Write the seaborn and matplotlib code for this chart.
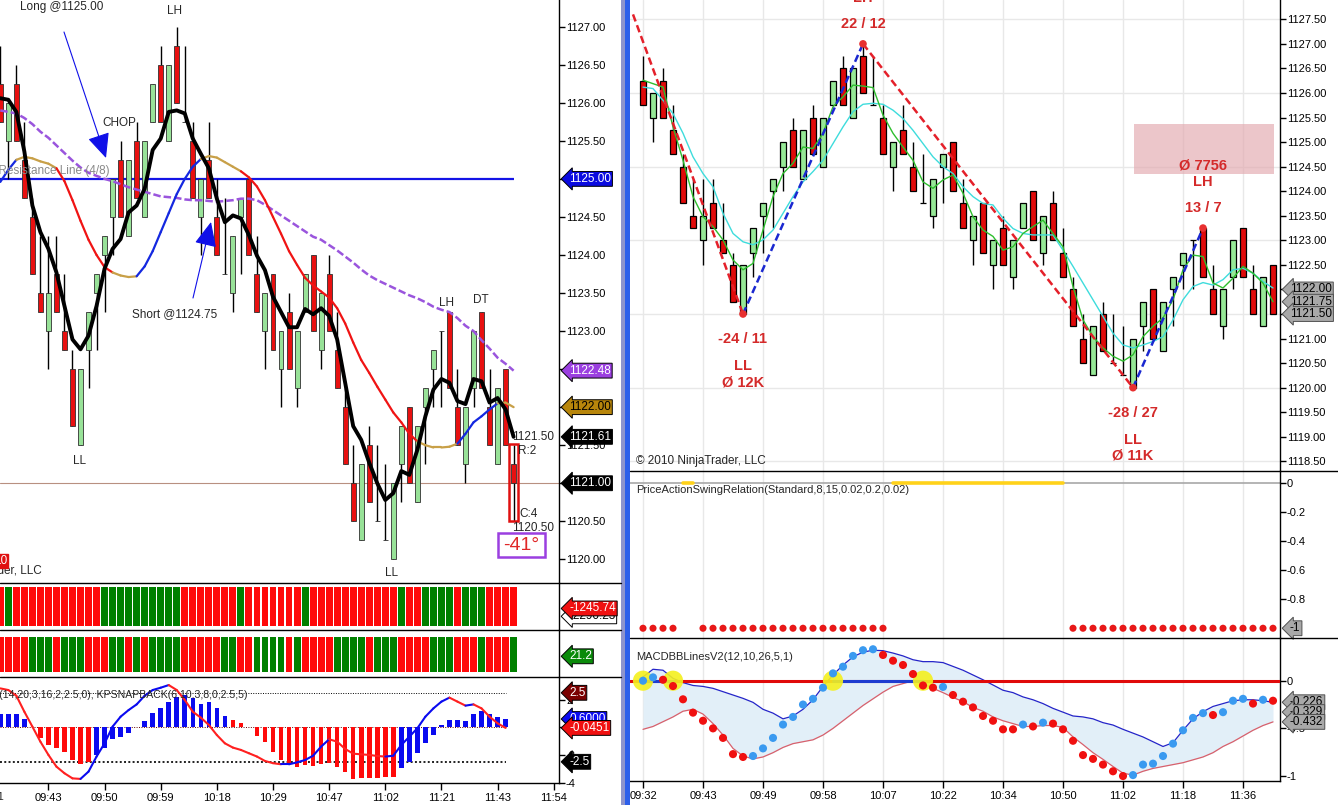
import numpy as np
import matplotlib
matplotlib.use("Agg")
import matplotlib.pyplot as plt
import seaborn as sns
from matplotlib.collections import LineCollection
from matplotlib.patches import Rectangle, FancyArrowPatch
from matplotlib.lines import Line2D
from matplotlib.ticker import FuncFormatter

W, H = 1338, 805

# Shared bar data (left chart shows all 65 bars, right chart the first 64)
OPEN = [1126.25, 1125.50, 1126.25, 1125.25, 1124.50, 1123.50, 1123.00, 1123.75, 1123.00, 1122.50,
        1121.50, 1122.75, 1123.50, 1124.00, 1124.50, 1125.25, 1124.25, 1125.50, 1124.50, 1125.75,
        1126.50, 1125.50, 1126.75, 1125.75, 1125.50, 1124.50, 1125.25, 1124.50, 1123.75, 1123.50,
        1124.50, 1125.00, 1123.75, 1123.00, 1123.75, 1122.50, 1123.25, 1122.25, 1123.25, 1124.00,
        1122.75, 1123.75, 1122.75, 1122.00, 1121.00, 1120.25, 1121.50, 1120.50, 1120.25, 1120.00,
        1121.25, 1122.00, 1120.75, 1122.00, 1122.50, 1123.00, 1123.25, 1122.00, 1121.25, 1122.25,
        1123.25, 1122.00, 1121.25, 1122.50, 1121.25]
HIGH = [1126.75, 1126.00, 1126.50, 1125.75, 1124.75, 1124.25, 1124.25, 1124.25, 1123.75, 1122.75,
        1122.50, 1123.25, 1123.75, 1124.25, 1125.00, 1125.50, 1125.25, 1125.75, 1125.50, 1126.25,
        1126.75, 1126.50, 1127.00, 1126.75, 1125.75, 1125.00, 1125.75, 1125.00, 1124.75, 1124.25,
        1124.75, 1125.00, 1124.25, 1123.50, 1123.75, 1123.00, 1123.50, 1123.00, 1123.75, 1124.00,
        1123.50, 1124.00, 1123.25, 1122.25, 1121.50, 1121.25, 1121.75, 1121.50, 1121.25, 1121.00,
        1121.75, 1122.00, 1121.75, 1122.25, 1122.75, 1123.00, 1123.25, 1122.50, 1122.00, 1123.00,
        1123.25, 1122.50, 1122.25, 1122.50, 1121.50]
LOW = [1125.75, 1125.00, 1125.50, 1124.75, 1123.75, 1123.25, 1122.50, 1123.25, 1122.75, 1121.75,
       1121.50, 1122.25, 1122.75, 1123.25, 1124.00, 1124.50, 1124.25, 1124.75, 1124.50, 1125.75,
       1125.75, 1125.50, 1126.00, 1125.75, 1124.75, 1124.00, 1124.75, 1124.00, 1123.75, 1123.25,
       1123.75, 1124.00, 1123.25, 1122.50, 1122.75, 1122.00, 1122.50, 1122.00, 1123.25, 1123.00,
       1122.50, 1123.00, 1122.25, 1121.25, 1120.50, 1120.25, 1120.75, 1120.50, 1120.25, 1120.00,
       1120.75, 1121.00, 1120.75, 1121.25, 1122.00, 1122.00, 1122.25, 1121.50, 1121.00, 1122.00,
       1122.25, 1121.50, 1121.25, 1121.50, 1120.50]
CLOSE = [1125.75, 1126.00, 1125.50, 1124.75, 1123.75, 1123.25, 1123.50, 1123.25, 1122.75, 1121.75,
         1122.50, 1123.25, 1123.75, 1124.25, 1125.00, 1124.50, 1125.25, 1124.75, 1125.50, 1126.25,
         1125.75, 1126.50, 1126.00, 1125.75, 1124.75, 1125.00, 1124.75, 1124.00, 1123.75, 1124.25,
         1124.75, 1124.00, 1123.25, 1123.50, 1122.75, 1123.00, 1122.50, 1123.00, 1123.75, 1123.00,
         1123.50, 1123.00, 1122.25, 1121.25, 1120.50, 1121.25, 1120.75, 1120.50, 1120.25, 1121.00,
         1121.75, 1121.00, 1121.75, 1122.25, 1122.75, 1123.00, 1122.25, 1121.50, 1122.00, 1123.00,
         1122.25, 1121.50, 1122.25, 1121.50, 1121.00]

# Left chart averages
LEFT_FAST = [1126.06, 1126.04, 1125.88, 1125.36, 1124.65, 1124.30, 1124.08, 1123.77, 1123.33, 1122.89,
             1122.76, 1122.94, 1123.33, 1123.82, 1124.08, 1124.21, 1124.56, 1124.65, 1124.87, 1125.38,
             1125.53, 1125.88, 1125.90, 1125.86, 1125.53, 1125.33, 1125.14, 1124.74, 1124.43, 1124.52,
             1124.48, 1124.26, 1123.99, 1123.80, 1123.45, 1123.25, 1123.05, 1123.05, 1123.29, 1123.22,
             1123.30, 1123.20, 1122.89, 1122.32, 1121.75, 1121.57, 1121.27, 1121.00, 1120.78, 1120.87,
             1121.16, 1121.11, 1121.44, 1121.88, 1122.23, 1122.37, 1122.32, 1122.08, 1122.04, 1122.37,
             1122.34, 1122.06, 1122.12, 1121.97, 1121.61]
LEFT_MID = [1124.96, 1125.12, 1125.25, 1125.29, 1125.27, 1125.23, 1125.20, 1125.14, 1124.97, 1124.72,
            1124.45, 1124.20, 1124.00, 1123.84, 1123.77, 1123.73, 1123.71, 1123.72, 1123.85, 1124.05,
            1124.30, 1124.55, 1124.80, 1125.00, 1125.16, 1125.26, 1125.30, 1125.28, 1125.22, 1125.16,
            1125.10, 1125.02, 1124.90, 1124.72, 1124.50, 1124.28, 1124.05, 1123.87, 1123.70, 1123.60,
            1123.52, 1123.44, 1123.30, 1123.10, 1122.85, 1122.62, 1122.45, 1122.27, 1122.10, 1121.93,
            1121.80, 1121.65, 1121.55, 1121.50, 1121.47, 1121.47, 1121.48, 1121.52, 1121.65, 1121.80,
            1121.88, 1121.97, 1122.05, 1122.06, 1122.00]
LEFT_SLOW = [1125.90, 1125.88, 1125.86, 1125.80, 1125.72, 1125.62, 1125.54, 1125.44, 1125.34, 1125.24,
             1125.15, 1125.08, 1125.04, 1125.00, 1124.97, 1124.93, 1124.89, 1124.86, 1124.83, 1124.80,
             1124.77, 1124.76, 1124.75, 1124.73, 1124.72, 1124.72, 1124.71, 1124.70, 1124.71, 1124.72,
             1124.74, 1124.74, 1124.72, 1124.66, 1124.59, 1124.52, 1124.45, 1124.38, 1124.31, 1124.24,
             1124.20, 1124.13, 1124.06, 1123.98, 1123.90, 1123.81, 1123.73, 1123.67, 1123.62, 1123.57,
             1123.52, 1123.47, 1123.43, 1123.38, 1123.32, 1123.28, 1123.25, 1123.17, 1123.07, 1123.00,
             1122.88, 1122.77, 1122.65, 1122.57, 1122.48]
SR_LEVEL = 1125.00

# Left lower panels
STRIP_TOP = "RG RRRRRRRRRRR GGGGGGGGGG RRRRRRR G RRRRRRR G RRRRRRRRRRR G RR GGGG R GGG RRRR"
STRIP_BOTTOM = "RRRR GGG R GGG RRR GG R G R GGGG RRRRR GG RR GGGG R G RRRR GGGG R GGG RRRR GGG RRR G RRR G"
OSC_HIST = [0.96, 1.00, 1.00, 0.60, 0.00, -0.75, -1.28, -1.47, -1.76, -2.37,
            -2.65, -2.50, -2.00, -1.50, -0.85, -0.68, -0.40, 0.00, 0.46, 1.01,
            1.37, 1.86, 2.22, 2.34, 2.10, 1.66, 1.86, 1.37, 0.82, 0.53,
            0.29, 0.00, -0.63, -1.04, -1.77, -2.37, -2.68, -2.85, -2.73, -2.78,
            -2.68, -2.61, -2.85, -3.26, -3.75, -3.70, -3.70, -3.65, -3.63, -3.58,
            -2.97, -2.54, -1.88, -1.16, -0.56, 0.16, 0.53, 0.53, 0.46, 0.94,
            1.20, 0.94, 0.77, 0.60, 0.00]
HIST_STATE = "BBBBB RRRRRRR BBBBB B BBBBBBBBBBB RR R RRRRRRRRRRRRRRRRRR BBBBBBBBBBBBBB B"
OSC_LINE = [2.82, 2.70, 2.29, 1.13, 0.05, -1.04, -2.00, -2.85, -3.33, -3.70,
            -3.74, -3.21, -2.12, -1.16, 0.05, 0.77, 1.25, 1.66, 2.29, 2.70,
            2.87, 3.06, 2.70, 1.98, 1.13, 0.70, 0.17, -0.56, -1.16, -1.47,
            -1.64, -1.88, -2.12, -2.44, -2.60, -2.68, -2.68, -2.54, -2.37, -2.06,
            -1.40, -0.87, -1.04, -1.57, -1.91, -1.96, -2.00, -2.08, -2.12, -2.06,
            -1.28, -0.68, -0.07, 0.77, 1.37, 1.86, 2.15, 1.86, 1.57, 1.66,
            1.37, 0.77, 0.29, -0.0451]
OSC_LEVELS = [2.5, -2.5]
LEFT_TIMES = ["09:43", "09:50", "09:59", "10:18", "10:29", "10:47", "11:02", "11:21", "11:43", "11:54"]
LEFT_TIME_IDX = [6, 13, 20, 27, 34, 41, 48, 55, 62, 69]

# Right chart averages and swings
RIGHT_FAST = [1126.26, 1126.19, 1126.12, 1125.31, 1124.63, 1123.89, 1123.48, 1123.28, 1123.01, 1122.60,
              1122.40, 1122.53, 1123.21, 1123.89, 1124.36, 1124.57, 1124.90, 1124.87, 1125.18, 1125.72,
              1125.92, 1126.16, 1126.14, 1126.11, 1125.55, 1125.18, 1124.90, 1124.63, 1124.19, 1124.06,
              1124.23, 1124.33, 1123.96, 1123.48, 1123.21, 1123.08, 1122.80, 1122.87, 1123.14, 1123.28,
              1123.41, 1123.14, 1122.87, 1122.06, 1121.38, 1121.04, 1120.81, 1120.64, 1120.54, 1120.67,
              1121.04, 1121.25, 1121.42, 1121.79, 1122.40, 1122.70, 1122.67, 1122.13, 1122.03, 1122.23,
              1122.47, 1122.33, 1122.13, 1121.75]
RIGHT_SLOW = [1126.12, 1126.09, 1125.85, 1125.58, 1125.18, 1124.70, 1124.36, 1124.09, 1123.55, 1123.14,
              1122.97, 1122.91, 1123.01, 1123.21, 1123.55, 1123.89, 1124.19, 1124.40, 1124.63, 1124.97,
              1125.31, 1125.62, 1125.77, 1125.79, 1125.77, 1125.65, 1125.48, 1125.24, 1124.97, 1124.70,
              1124.50, 1124.36, 1124.09, 1123.89, 1123.75, 1123.72, 1123.45, 1123.24, 1123.14, 1123.11,
              1123.11, 1123.11, 1122.80, 1122.47, 1122.13, 1121.79, 1121.45, 1121.11, 1120.87, 1120.81,
              1120.87, 1120.94, 1121.04, 1121.38, 1121.79, 1122.06, 1122.14, 1122.09, 1122.20, 1122.40,
              1122.43, 1122.33, 1122.16, 1122.03]
SWING_IDX = [-1, 10, 22, 49, 56]
SWING_PRICE = [1127.60, 1121.50, 1127.00, 1120.00, 1123.25]
SWING_LABELS = {10: ["-24 / 11", "LL", "Ø 12K"],
                22: ["22 / 12", "LH"],
                49: ["-28 / 27", "LL", "Ø 11K"],
                56: ["13 / 7", "LH", "Ø 7756"]}
SWING_RELATION = [-1] * 4 + [0] * 2 + [-1] * 19 + [0] * 18 + [-1] * 21

MACD = [0.000, 0.035, 0.010, -0.056, -0.195, -0.335, -0.420, -0.500, -0.600, -0.770,
        -0.800, -0.790, -0.710, -0.600, -0.460, -0.380, -0.250, -0.190, -0.073, 0.077,
        0.147, 0.260, 0.320, 0.330, 0.270, 0.210, 0.165, 0.070, -0.050, -0.073,
        -0.065, -0.150, -0.220, -0.280, -0.370, -0.420, -0.510, -0.510, -0.460, -0.480,
        -0.440, -0.450, -0.510, -0.630, -0.780, -0.820, -0.880, -0.950, -1.000, -0.990,
        -0.880, -0.870, -0.790, -0.660, -0.520, -0.390, -0.340, -0.360, -0.330, -0.210,
        -0.190, -0.240, -0.200, -0.210]
BB_UPPER = [0.040, 0.120, 0.110, 0.025, -0.020, -0.050, -0.060, -0.080, -0.115, -0.150,
            -0.185, -0.227, -0.300, -0.340, -0.400, -0.370, -0.300, -0.200, -0.060, 0.060,
            0.164, 0.250, 0.300, 0.320, 0.315, 0.290, 0.260, 0.220, 0.200, 0.200,
            0.190, 0.150, 0.110, 0.060, 0.010, -0.045, -0.100, -0.125, -0.170, -0.200,
            -0.240, -0.290, -0.330, -0.370, -0.380, -0.400, -0.440, -0.465, -0.510, -0.550,
            -0.590, -0.640, -0.690, -0.650, -0.520, -0.400, -0.325, -0.270, -0.240, -0.210,
            -0.200, -0.200, -0.210, -0.226]
BB_LOWER = [-0.510, -0.480, -0.430, -0.380, -0.320, -0.300, -0.350, -0.450, -0.570, -0.710,
            -0.790, -0.820, -0.800, -0.755, -0.700, -0.660, -0.640, -0.620, -0.570, -0.500,
            -0.420, -0.340, -0.260, -0.190, -0.120, -0.060, -0.030, 0.000, -0.030, -0.080,
            -0.125, -0.175, -0.220, -0.280, -0.320, -0.380, -0.420, -0.450, -0.480, -0.480,
            -0.470, -0.470, -0.490, -0.590, -0.670, -0.755, -0.825, -0.900, -0.970, -0.990,
            -0.950, -0.920, -0.900, -0.880, -0.860, -0.830, -0.800, -0.755, -0.690, -0.640,
            -0.580, -0.520, -0.470, -0.432]
CROSS_IDX = [0, 3, 19, 28]
RIGHT_TIMES = ["09:32", "09:43", "09:49", "09:58", "10:07", "10:22", "10:34", "10:50", "11:02", "11:18", "11:36"]
RIGHT_TIME_IDX = [0, 6, 12, 18, 24, 30, 36, 42, 48, 54, 60]

LEFT_XLIM = (-0.037, 69.66)
RIGHT_XLIM = (-1.3, 63.7)
FONT = ["Liberation Sans", "DejaVu Sans"]


def fig_rect(x0, y0, x1, y1):
    """Axes rectangle from pixel corners (origin top-left)."""
    return [x0 / W, 1 - y1 / H, (x1 - x0) / W, (y1 - y0) / H]


def style_axis(ax, xlim, ylim, bottom=False):
    """White panel with a price scale on the right."""
    ax.set_xlim(*xlim)
    ax.set_ylim(*ylim)
    ax.set_facecolor("white")
    for side in ("top", "left", "bottom"):
        ax.spines[side].set_visible(False)
    ax.spines["right"].set_color("black")
    ax.spines["right"].set_linewidth(1)
    if bottom:
        ax.spines["bottom"].set_visible(True)
        ax.spines["bottom"].set_color("black")
        ax.spines["bottom"].set_linewidth(1)
    ax.yaxis.tick_right()
    ax.tick_params(axis="y", length=4, width=1, pad=1, labelsize=8, colors="black")
    ax.tick_params(axis="x", bottom=bottom, labelbottom=bottom, length=5, width=1,
                   pad=2, labelsize=8, colors="black")
    ax.grid(False)


def axis_marker(ax, value, text, fc, tc="white", ec="black", dy=0):
    """Arrow-shaped value tag on the right price scale."""
    ax.annotate(text, xy=(1, value), xycoords=("axes fraction", "data"),
                xytext=(10, dy), textcoords="offset pixels", ha="left", va="center",
                fontsize=8.5, color=tc, annotation_clip=False, zorder=20,
                bbox=dict(boxstyle="larrow,pad=0.12", fc=fc, ec=ec, lw=0.7))


def colored_line(ax, x, y, colors, lw, zorder=4):
    pts = np.column_stack([x, y]).reshape(-1, 1, 2)
    segs = np.concatenate([pts[:-1], pts[1:]], axis=1)
    ax.add_collection(LineCollection(segs, colors=colors, linewidths=lw,
                                     capstyle="round", joinstyle="round", zorder=zorder))


def draw_candles(ax, n, width, red, green, edge, edge_lw):
    o, h, l, c = (np.array(a[:n]) for a in (OPEN, HIGH, LOW, CLOSE))
    x = np.arange(n)
    ax.vlines(x, l, h, color="black", lw=1, zorder=2)
    colors = np.where(c > o, green, red)
    ax.bar(x, np.abs(c - o), bottom=np.minimum(o, c), width=width, color=colors,
           edgecolor=edge, linewidth=edge_lw, zorder=3)


def draw_left_main(fig):
    ax = fig.add_axes(fig_rect(0, 0, 559, 583))
    style_axis(ax, LEFT_XLIM, (1119.689, 1127.351))
    ax.set_yticks(np.arange(1120.0, 1127.01, 0.5))
    ax.yaxis.set_major_formatter(FuncFormatter(lambda v, _: f"{v:.2f}"))
    n = len(OPEN)
    idx = np.arange(n)

    ax.axhline(CLOSE[-1], color="#B89080", lw=0.8, zorder=1)
    ax.hlines(SR_LEVEL, LEFT_XLIM[0], n - 1, color="#1414E6", lw=1.6, zorder=1)
    draw_candles(ax, n, 0.62, "#E81010", "#98E298", "#303030", 0.6)

    sns.lineplot(x=idx, y=LEFT_SLOW, ax=ax, color="#9A55DD", lw=1.8,
                 linestyle=(0, (3, 1.2)), zorder=4)
    mid = np.array(LEFT_MID)
    slope = np.diff(mid)
    mid_colors = np.where(np.abs(slope) < 0.065, "#C8A048",
                          np.where(slope > 0, "#1428E0", "#F01414"))
    colored_line(ax, idx, mid, mid_colors, 1.6, zorder=4)
    sns.lineplot(x=idx, y=LEFT_FAST, ax=ax, color="black", lw=2.8, zorder=5)

    # value tags on the price scale
    axis_marker(ax, SR_LEVEL, f"{SR_LEVEL:.2f}", "#0A0AE0")
    axis_marker(ax, LEFT_SLOW[-1], f"{LEFT_SLOW[-1]:.2f}", "#9B3FE0")
    axis_marker(ax, LEFT_MID[-1], f"{LEFT_MID[-1]:.2f}", "#B8860B", tc="black")
    axis_marker(ax, LEFT_FAST[-1], f"{LEFT_FAST[-1]:.2f}", "black")
    axis_marker(ax, CLOSE[-1], f"{CLOSE[-1]:.2f}", "black")

    # live bar range box
    last = n - 1
    ax.add_patch(Rectangle((last - 0.57, LOW[-1]), 1.12, 1.02, fill=False,
                           ec="#E01010", lw=1.8, zorder=6, clip_on=False))
    return ax


def draw_left_annotations(fig):
    def t(x, y, s, **kw):
        kw.setdefault("fontsize", 8.5)
        kw.setdefault("family", FONT)
        fig.text(x / W, 1 - y / H, s, va="center", **kw)

    t(62, 7, "Long @1125.00", ha="center")
    t(119, 123, "CHOP", ha="center")
    t(175, 11, "LH", ha="center")
    t(175, 314, "Short @1124.75", ha="center")
    t(79, 461, "LL", ha="center")
    t(392, 573, "LL", ha="center")
    t(447, 303, "LH", ha="center")
    t(481, 300, "DT", ha="center")
    t(110, 171, "Support/Resistance Line (4/8)", ha="right", color="#8A8A8A")
    t(512, 437, "1121.50", ha="left")
    t(518, 451, "R:2", ha="left")
    t(519, 514, "C:4", ha="left")
    t(512, 528, "1120.50", ha="left")
    t(42, 571, "© 2010 NinjaTrader, LLC", ha="right")
    t(7, 561, "10", ha="right", color="white",
      bbox=dict(boxstyle="square,pad=0.1", fc="#E01010", ec="#E01010"))
    t(521, 545, "-41°", ha="center", fontsize=14, color="#E02828")
    fig.add_artist(Rectangle((498 / W, 1 - 557 / H), 47 / W, 24 / H, transform=fig.transFigure,
                             fill=False, ec="#9B3FE0", lw=1.8))
    arrow = dict(arrowstyle="-|>,head_length=0.55,head_width=0.25", color="#1010E8",
                 lw=0.8, mutation_scale=28, shrinkA=0, shrinkB=0)
    fig.add_artist(FancyArrowPatch((64, H - 32), (106, H - 158), transform=None, **arrow))
    fig.add_artist(FancyArrowPatch((193, H - 298), (211, H - 222), transform=None, **arrow))


def draw_strip(fig, rect, states, ylim, marker_text, marker_color, back_text=None):
    ax = fig.add_axes(fig_rect(*rect))
    style_axis(ax, LEFT_XLIM, ylim)
    ax.set_yticks([])
    codes = "".join(states.split())
    idx = np.arange(len(codes))
    colors = ["#FF0A0A" if s == "R" else "#008000" for s in codes]
    ax.bar(idx, 1.0, bottom=0.0, width=0.86, color=colors, lw=0, zorder=2)
    if back_text:
        axis_marker(ax, 0.3, back_text, "white", tc="black", ec="black", dy=-2)
    axis_marker(ax, 0.45, marker_text, marker_color)
    return ax


def draw_oscillator(fig):
    ax = fig.add_axes(fig_rect(0, 677, 559, 783))
    style_axis(ax, LEFT_XLIM, (-4.036, 3.645), bottom=True)
    ax.set_yticks([-4, -2, 0, 2])
    ax.yaxis.set_major_formatter(FuncFormatter(lambda v, _: f"{v:g}"))
    ax.set_xticks(LEFT_TIME_IDX)
    ax.set_xticklabels(LEFT_TIMES, family=FONT)
    hist = np.array(OSC_HIST)
    idx = np.arange(len(hist))
    state = "".join(HIST_STATE.split())
    colors = ["#0A0AF0" if s == "B" else "#FF0A0A" for s in state]
    ax.bar(idx, hist, width=0.57, color=colors, lw=0, zorder=2)
    n_line = len(OSC_LINE)
    ax.hlines(OSC_LEVELS[0], 0, n_line - 1, color="black", lw=0.7, linestyles=(0, (1, 1.5)), zorder=1)
    ax.hlines(0, 0, n_line - 1, color="#600000", lw=0.7, linestyles=(0, (1, 1.5)), zorder=1)
    ax.hlines(OSC_LEVELS[1], 0, n_line - 1, color="#202020", lw=1.4, linestyles=(0, (1, 1.2)), zorder=1)
    line = np.array(OSC_LINE)
    lc = np.where(np.diff(line) >= 0, "#0A0AF0", "#FF2020")
    colored_line(ax, np.arange(n_line), line, lc, 1.5, zorder=4)
    ax.text(0.442, 0.83, "KPSnapBack(14,20,3,16,2,2.5,0), KPSNAPBACK(6,10,3,8,0,2.5,5)",
            transform=ax.transAxes, ha="right", va="center", fontsize=7.6, family=FONT, zorder=6)
    axis_marker(ax, OSC_LEVELS[0], f"{OSC_LEVELS[0]:g}", "#7A0000")
    axis_marker(ax, OSC_LEVELS[1], f"{OSC_LEVELS[1]:g}", "black")
    axis_marker(ax, OSC_HIST[n_line - 1], f"{OSC_HIST[n_line - 1]:.4f}", "#0A0AF0")
    axis_marker(ax, OSC_LINE[-1], f"{OSC_LINE[-1]:.4f}", "#F01010")
    fig.text(4 / W, 1 - 797 / H, "09:31", ha="right", va="center", fontsize=8, family=FONT)
    return ax


def right_grid(ax):
    for i in RIGHT_TIME_IDX:
        ax.axvline(i, color="#E8E8E8", lw=1, zorder=0)


def draw_right_main(fig):
    ax = fig.add_axes(fig_rect(630, 0, 1280, 471))
    style_axis(ax, RIGHT_XLIM, (1118.304, 1127.893))
    ax.set_yticks(np.arange(1118.5, 1127.51, 0.5))
    ax.yaxis.set_major_formatter(FuncFormatter(lambda v, _: f"{v:.2f}"))
    right_grid(ax)
    for lvl in np.arange(1118.5, 1128.0, 1.5):
        ax.axhline(lvl, color="#E8E8E8", lw=1, zorder=0)
    n = len(RIGHT_FAST)
    idx = np.arange(n)

    ax.add_patch(Rectangle((49.1, 1124.35), 14.0, 1.02, fc="#E2A8AE", alpha=0.65, lw=0, zorder=1))
    draw_candles(ax, n, 0.65, "#E00A0A", "#96E896", "black", 0.9)
    sns.lineplot(x=idx, y=RIGHT_SLOW, ax=ax, color="#3EDCDC", lw=1.0, zorder=4)
    sns.lineplot(x=idx, y=RIGHT_FAST, ax=ax, color="#2EBE2E", lw=1.0, zorder=4)

    for k in range(len(SWING_IDX) - 1):
        x0, x1 = SWING_IDX[k], SWING_IDX[k + 1]
        y0, y1 = SWING_PRICE[k], SWING_PRICE[k + 1]
        col = "#E4202A" if y1 < y0 else "#1A28D0"
        ax.plot([x0, x1], [y0, y1], color=col, lw=1.8, linestyle=(0, (3, 1.6)), zorder=5)
    sns.scatterplot(x=SWING_IDX[1:], y=SWING_PRICE[1:], ax=ax, color="#E83030", s=30,
                    edgecolor="none", zorder=6)

    for k, (i, p) in enumerate(zip(SWING_IDX, SWING_PRICE)):
        if i not in SWING_LABELS:
            continue
        is_low = p < SWING_PRICE[k - 1]
        offsets = [-25, -52, -68] if is_low else [20, 46, 63]
        for text, dy in zip(SWING_LABELS[i], offsets):
            ax.annotate(text, xy=(i, p), xytext=(0, dy), textcoords="offset pixels",
                        ha="center", va="center", fontsize=10.5, weight="bold",
                        color="#D42A2A", family=FONT, annotation_clip=False, zorder=7)

    ax.text(-0.7, 1118.51, "© 2010 NinjaTrader, LLC", ha="left", va="center",
            fontsize=8.5, family=FONT, zorder=7)
    tag = round(RIGHT_SLOW[-1] * 4) / 4
    axis_marker(ax, tag, f"{tag:.2f}", "#A8A8A8", tc="black", ec="#505050")
    tag = round(RIGHT_FAST[-1] * 4) / 4
    axis_marker(ax, tag, f"{tag:.2f}", "#A8A8A8", tc="black", ec="#505050")
    axis_marker(ax, CLOSE[n - 1], f"{CLOSE[n - 1]:.2f}", "#A8A8A8", tc="black", ec="#505050")
    return ax


def draw_swing_relation(fig):
    ax = fig.add_axes(fig_rect(630, 471, 1280, 638))
    style_axis(ax, RIGHT_XLIM, (-1.067, 0.08))
    ax.set_yticks([0, -0.2, -0.4, -0.6, -0.8])
    ax.yaxis.set_major_formatter(FuncFormatter(lambda v, _: f"{v:g}"))
    right_grid(ax)
    rel = np.array(SWING_RELATION, dtype=float)
    idx = np.arange(len(rel))
    ax.axhline(0, color="#A8A8A8", lw=1.2, zorder=1)
    ax.plot(idx, np.where(rel == 0, 0.0, np.nan), color="#FFD21A", lw=2.6, zorder=2)
    sns.scatterplot(x=idx[rel == -1], y=rel[rel == -1], ax=ax, color="#E81818", s=26,
                    edgecolor="none", zorder=3)
    ax.text(0.009, 0.886, "PriceActionSwingRelation(Standard,8,15,0.02,0.2,0.02)",
            transform=ax.transAxes, ha="left", va="center", fontsize=8, family=FONT)
    axis_marker(ax, -1, "-1", "#A8A8A8", tc="black", ec="#505050")
    return ax


def draw_macd(fig):
    ax = fig.add_axes(fig_rect(630, 638, 1280, 781))
    style_axis(ax, RIGHT_XLIM, (-1.052, 0.448), bottom=True)
    ax.set_yticks([0, -0.5, -1])
    ax.yaxis.set_major_formatter(FuncFormatter(lambda v, _: f"{v:g}"))
    ax.set_xticks(RIGHT_TIME_IDX)
    ax.set_xticklabels(RIGHT_TIMES, family=FONT)
    right_grid(ax)
    macd = np.array(MACD)
    idx = np.arange(len(macd))
    ax.fill_between(idx, BB_LOWER, BB_UPPER, color="#E2EFF8", lw=0, zorder=1)
    sns.lineplot(x=idx, y=BB_UPPER, ax=ax, color="#2424C8", lw=0.9, zorder=2)
    sns.lineplot(x=idx, y=BB_LOWER, ax=ax, color="#D8606C", lw=0.9, zorder=2)
    ax.axhline(0, color="#E00A0A", lw=2.2, zorder=3)
    for a, b in zip(CROSS_IDX[0::2], CROSS_IDX[1::2]):
        ax.plot([a, b], [0, 0], color="#1E3CD0", lw=2.2, zorder=3.5)
    sns.scatterplot(x=CROSS_IDX, y=[0.0] * len(CROSS_IDX), ax=ax, color="#F4F01E",
                    s=210, edgecolor="none", alpha=0.9, zorder=4)
    rising = np.concatenate([[True], np.diff(macd) > 0])
    sns.scatterplot(x=idx[rising], y=macd[rising], ax=ax, color="#3A9AF0", s=34,
                    edgecolor="none", zorder=5)
    sns.scatterplot(x=idx[~rising], y=macd[~rising], ax=ax, color="#F01010", s=34,
                    edgecolor="none", zorder=5)
    ax.text(0.009, 0.867, "MACDBBLinesV2(12,10,26,5,1)", transform=ax.transAxes,
            ha="left", va="center", fontsize=8, family=FONT)
    mid = (BB_UPPER[-1] + BB_LOWER[-1]) / 2
    for v in (BB_UPPER[-1], mid, BB_LOWER[-1]):
        axis_marker(ax, v, f"{v:.3f}", "#A8A8A8", tc="black", ec="#505050")
    return ax


def draw_frame(fig):
    def hline(y, x0, x1):
        fig.add_artist(Line2D([x0 / W, x1 / W], [1 - y / H, 1 - y / H],
                              transform=fig.transFigure, color="black", lw=1))
    for y in (583, 630, 677):
        hline(y, 0, 621)
    for y in (471, 638):
        hline(y, 630, 1338)
    fig.add_artist(Rectangle((621 / W, 0), 4 / W, 1, transform=fig.transFigure,
                             fc="#8E94CC", lw=0))
    fig.add_artist(Rectangle((625 / W, 0), 5 / W, 1, transform=fig.transFigure,
                             fc="#2D5FEA", lw=0))


def main():
    sns.set_style("white")
    plt.rcParams["font.family"] = FONT
    plt.rcParams["axes.unicode_minus"] = False
    fig = plt.figure(figsize=(W / 100, H / 100), dpi=100)
    fig.patch.set_facecolor("white")

    draw_left_main(fig)
    draw_strip(fig, (0, 583, 559, 630), STRIP_TOP, (-0.1, 1.1), "-1245.74", "#F01010",
               back_text="-2290.23")
    draw_strip(fig, (0, 630, 559, 677), STRIP_BOTTOM, (-0.14, 1.2), "21.2", "#0A8A0A")
    draw_oscillator(fig)
    draw_right_main(fig)
    draw_swing_relation(fig)
    draw_macd(fig)
    draw_frame(fig)
    draw_left_annotations(fig)

    fig.savefig("out.png", dpi=100, facecolor="white")


if __name__ == "__main__":
    main()
